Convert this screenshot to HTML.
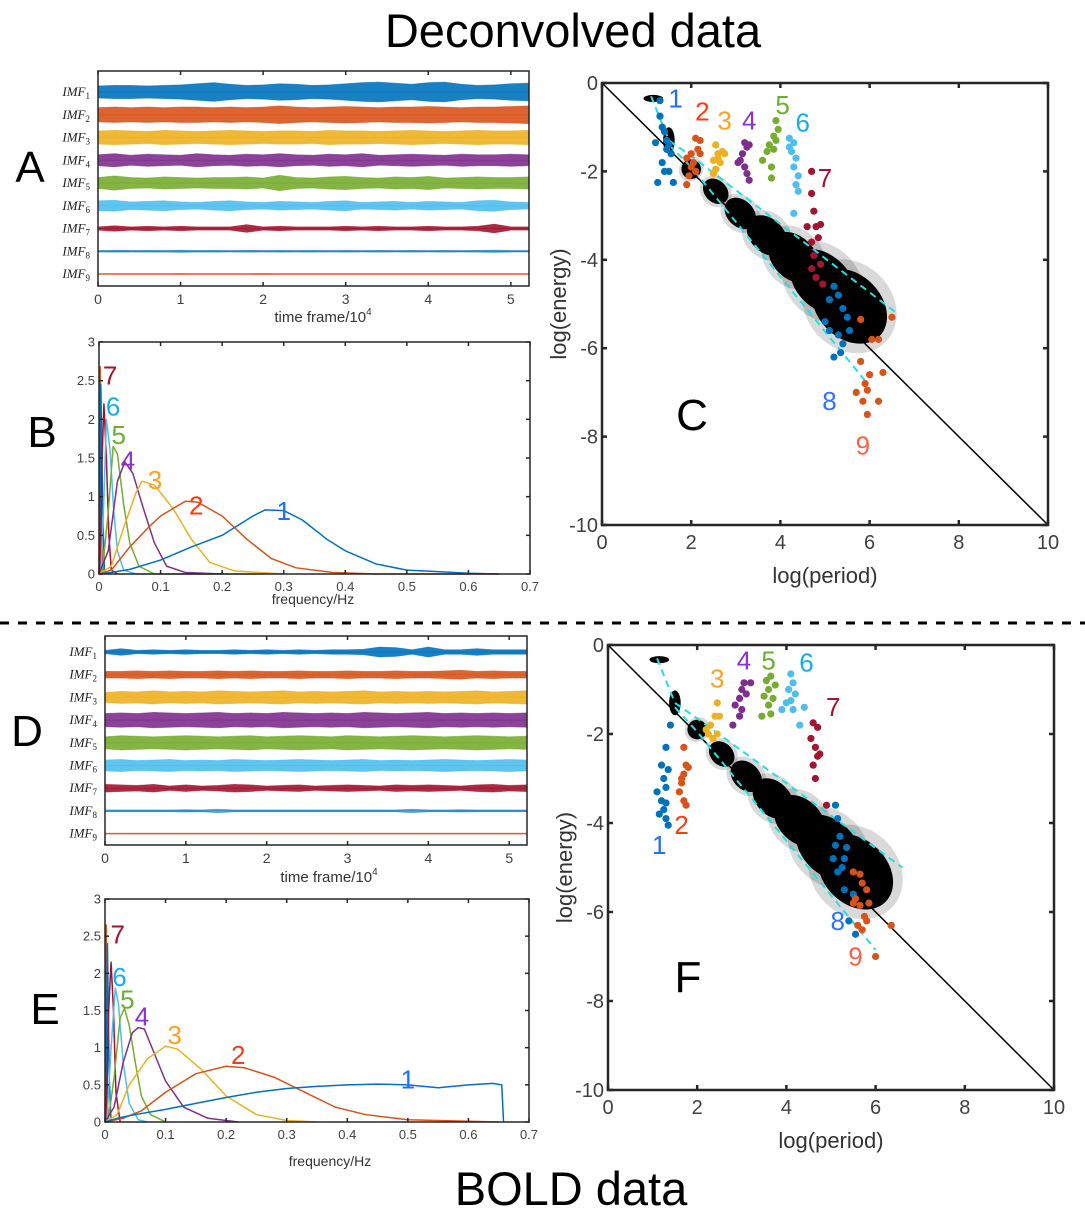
<!DOCTYPE html>
<html><head><meta charset="utf-8"><style>
html,body{margin:0;padding:0;background:#fff;}
svg{display:block;font-family:"Liberation Sans",sans-serif;}
</style></head><body>
<svg id="fig" width="1085" height="1217" viewBox="0 0 1085 1217" xmlns="http://www.w3.org/2000/svg">
<text x="573" y="47" font-size="47" text-anchor="middle" fill="#000">Deconvolved data</text>
<text x="571" y="1205" font-size="47" text-anchor="middle" fill="#000">BOLD data</text>
<line x1="0" y1="623" x2="1085" y2="623" stroke="#000" stroke-width="3" stroke-dasharray="9,9"/>
<text x="30" y="182" font-size="44" text-anchor="middle">A</text>
<text x="42" y="447" font-size="44" text-anchor="middle">B</text>
<text x="692" y="430" font-size="44" text-anchor="middle">C</text>
<text x="27" y="746" font-size="44" text-anchor="middle">D</text>
<text x="45" y="1024" font-size="44" text-anchor="middle">E</text>
<text x="688" y="992" font-size="44" text-anchor="middle">F</text>
</svg>
<script>
const NS="http://www.w3.org/2000/svg";
const svg=document.getElementById('fig');
const COLORS=['#0072BD','#D95319','#EDB120','#7E2F8E','#77AC30','#4DBEEE','#A2142F','#0072BD','#D95319'];
const LABELCOLORS=['#1E6FFF','#FF3A10','#FFA020','#8A30D0','#6AB030','#10B0F0','#A2142F','#3070FF','#FF6040'];

const envA=[
[0.55,0.6,0.6,0.55,0.6,0.65,0.75,0.85,0.7,0.6,0.65,0.75,0.7,0.6,0.65,0.75,0.85,0.9,0.8,0.7,0.85,0.9,0.7,0.6,0.65,0.75,0.8],
[0.65,0.7,0.65,0.7,0.65,0.7,0.7,0.65,0.7,0.65,0.7,0.8,0.7,0.65,0.7,0.75,0.7,0.65,0.7,0.7,0.75,0.7,0.65,0.7,0.7,0.75,0.8],
[0.6,0.65,0.6,0.55,0.65,0.6,0.55,0.6,0.65,0.6,0.55,0.6,0.6,0.55,0.65,0.6,0.6,0.55,0.6,0.65,0.6,0.55,0.6,0.65,0.6,0.6,0.65],
[0.5,0.6,0.45,0.55,0.5,0.45,0.6,0.5,0.45,0.55,0.5,0.6,0.5,0.45,0.55,0.5,0.6,0.45,0.5,0.55,0.5,0.45,0.55,0.5,0.5,0.55,0.5],
[0.5,0.65,0.5,0.45,0.55,0.5,0.45,0.5,0.5,0.55,0.45,0.7,0.5,0.45,0.55,0.6,0.5,0.45,0.55,0.5,0.6,0.45,0.5,0.55,0.5,0.5,0.55],
[0.45,0.5,0.35,0.4,0.45,0.35,0.3,0.4,0.45,0.35,0.3,0.4,0.35,0.3,0.4,0.45,0.3,0.35,0.4,0.3,0.4,0.35,0.3,0.45,0.5,0.35,0.3],
[0.15,0.25,0.15,0.2,0.15,0.2,0.15,0.15,0.15,0.35,0.15,0.2,0.15,0.15,0.15,0.2,0.15,0.2,0.15,0.15,0.2,0.15,0.15,0.2,0.4,0.15,0.15],
[0.07,0.08,0.07,0.08,0.07,0.1,0.07,0.08,0.07,0.08,0.07,0.08,0.07,0.08,0.07,0.08,0.07,0.08,0.07,0.08,0.07,0.08,0.07,0.08,0.1,0.07,0.07],
[0.04,0.04,0.04,0.04,0.04,0.05,0.04,0.04,0.04,0.04,0.06,0.04,0.04,0.04,0.04,0.04,0.04,0.04,0.04,0.04,0.04,0.04,0.04,0.04,0.04,0.04,0.04]];
const envD=[
[0.15,0.3,0.15,0.2,0.15,0.2,0.15,0.15,0.2,0.15,0.2,0.15,0.2,0.15,0.2,0.2,0.25,0.45,0.4,0.2,0.45,0.2,0.2,0.3,0.2,0.2,0.2],
[0.3,0.3,0.35,0.3,0.35,0.3,0.3,0.35,0.3,0.35,0.3,0.3,0.35,0.3,0.3,0.35,0.3,0.3,0.35,0.3,0.3,0.35,0.4,0.3,0.35,0.3,0.3],
[0.45,0.55,0.5,0.6,0.5,0.55,0.5,0.6,0.55,0.5,0.55,0.6,0.5,0.55,0.5,0.55,0.6,0.5,0.55,0.5,0.55,0.5,0.55,0.6,0.5,0.55,0.6],
[0.6,0.65,0.6,0.7,0.65,0.6,0.65,0.7,0.6,0.65,0.6,0.7,0.65,0.6,0.65,0.6,0.7,0.65,0.6,0.65,0.7,0.6,0.65,0.6,0.65,0.6,0.65],
[0.55,0.65,0.6,0.55,0.6,0.65,0.6,0.55,0.6,0.65,0.55,0.6,0.65,0.6,0.55,0.65,0.6,0.55,0.6,0.65,0.6,0.55,0.6,0.65,0.6,0.55,0.6],
[0.5,0.55,0.45,0.5,0.55,0.45,0.5,0.45,0.55,0.5,0.45,0.5,0.55,0.5,0.45,0.5,0.55,0.45,0.5,0.45,0.5,0.55,0.5,0.45,0.5,0.55,0.5],
[0.35,0.3,0.25,0.35,0.2,0.3,0.2,0.25,0.35,0.3,0.2,0.25,0.3,0.2,0.25,0.3,0.25,0.2,0.3,0.25,0.3,0.25,0.2,0.3,0.35,0.25,0.3],
[0.08,0.08,0.08,0.08,0.08,0.1,0.08,0.15,0.08,0.08,0.08,0.08,0.08,0.08,0.08,0.08,0.08,0.08,0.08,0.15,0.08,0.08,0.1,0.08,0.08,0.08,0.08],
[0.04,0.04,0.04,0.04,0.04,0.04,0.04,0.04,0.04,0.04,0.04,0.04,0.04,0.04,0.04,0.04,0.04,0.04,0.04,0.04,0.04,0.04,0.04,0.04,0.04,0.04,0.04]];
const timeTicks=[0,1,2,3,4,5];

const specB=[
[[0,0],[0.02,0.02],[0.05,0.06],[0.1,0.18],[0.15,0.35],[0.2,0.5],[0.25,0.75],[0.27,0.83],[0.3,0.82],[0.33,0.7],[0.37,0.45],[0.4,0.3],[0.45,0.13],[0.5,0.05],[0.55,0.03],[0.6,0.01],[0.65,0]],
[[0,0],[0.02,0.05],[0.05,0.35],[0.08,0.6],[0.1,0.75],[0.14,0.94],[0.16,0.93],[0.2,0.75],[0.24,0.45],[0.28,0.2],[0.32,0.08],[0.38,0.02],[0.45,0],[0.65,0]],
[[0,0],[0.02,0.1],[0.04,0.6],[0.06,1.05],[0.07,1.2],[0.09,1.15],[0.12,0.85],[0.15,0.45],[0.18,0.15],[0.22,0.04],[0.3,0]],
[[0,0],[0.015,0.3],[0.03,1.2],[0.042,1.45],[0.055,1.3],[0.07,0.9],[0.09,0.4],[0.11,0.1],[0.14,0.02],[0.2,0]],
[[0.005,0],[0.015,0.8],[0.023,1.65],[0.03,1.55],[0.04,0.9],[0.05,0.4],[0.065,0.1],[0.09,0],[0.27,0]],
[[0.003,0],[0.008,1.0],[0.012,2.0],[0.018,1.6],[0.024,0.8],[0.03,0.3],[0.04,0.05],[0.06,0],[0.17,0]],
[[0.002,0],[0.005,1.5],[0.008,2.2],[0.012,1.5],[0.016,0.5],[0.02,0.05],[0.03,0]],
[[0.001,0],[0.003,2.45],[0.006,0.8],[0.009,0]],
[[0,0],[0.002,2.68],[0.004,0.5],[0.007,0]]];
const specE=[
[[0,0],[0.02,0.05],[0.05,0.1],[0.1,0.17],[0.15,0.25],[0.2,0.33],[0.25,0.4],[0.3,0.45],[0.35,0.48],[0.4,0.5],[0.45,0.51],[0.5,0.5],[0.55,0.46],[0.6,0.5],[0.64,0.52],[0.655,0.5],[0.658,0]],
[[0,0],[0.03,0.05],[0.06,0.15],[0.1,0.4],[0.15,0.65],[0.2,0.75],[0.23,0.73],[0.28,0.6],[0.33,0.4],[0.38,0.2],[0.43,0.1],[0.5,0.03],[0.6,0.01],[0.65,0]],
[[0,0],[0.02,0.1],[0.04,0.5],[0.07,0.85],[0.1,1.02],[0.12,0.98],[0.16,0.7],[0.2,0.35],[0.25,0.1],[0.3,0.02],[0.35,0]],
[[0,0],[0.015,0.2],[0.03,0.8],[0.045,1.2],[0.055,1.27],[0.065,1.25],[0.08,0.95],[0.1,0.55],[0.13,0.2],[0.17,0.05],[0.22,0]],
[[0.005,0],[0.015,0.6],[0.025,1.4],[0.032,1.53],[0.04,1.3],[0.05,0.8],[0.06,0.35],[0.075,0.1],[0.1,0]],
[[0.003,0],[0.01,1.0],[0.017,1.8],[0.022,1.6],[0.03,0.8],[0.04,0.25],[0.055,0.03],[0.07,0]],
[[0.002,0],[0.006,1.5],[0.01,2.15],[0.014,1.5],[0.018,0.4],[0.025,0]],
[[0.001,0],[0.004,2.4],[0.007,0.6],[0.01,0]],
[[0,0],[0.002,2.65],[0.004,0.3],[0.006,0]]];
const specLabelsB=[[0.30,0.7,'1'],[0.158,0.77,'2'],[0.091,1.1,'3'],[0.047,1.35,'4'],[0.032,1.68,'5'],[0.023,2.05,'6'],[0.018,2.45,'7']];
const specLabelsE=[[0.5,0.45,'1'],[0.22,0.78,'2'],[0.115,1.05,'3'],[0.061,1.3,'4'],[0.037,1.53,'5'],[0.024,1.83,'6'],[0.021,2.4,'7']];
const freqTicks=[0,0.1,0.2,0.3,0.4,0.5,0.6,0.7];
const ampTicks=[0,0.5,1,1.5,2,2.5,3];

const periodTicks=[0,2,4,6,8,10];
const energyTicks=[0,-2,-4,-6,-8,-10];
const cloudC=[[1.15,-0.35,0.22,0.08,0],[1.5,-1.3,0.13,0.3,0],[2.0,-1.95,0.22,0.22,45],[2.55,-2.45,0.32,0.25,45],[3.1,-2.95,0.4,0.3,45],[3.7,-3.45,0.52,0.38,45],[4.3,-3.95,0.66,0.48,45],[4.95,-4.5,0.85,0.6,45],[5.55,-5.05,0.95,0.72,45]];
const cloudF=[[1.15,-0.33,0.22,0.08,0],[1.5,-1.3,0.13,0.28,0],[2.0,-1.9,0.22,0.22,45],[2.55,-2.45,0.32,0.25,45],[3.1,-2.95,0.4,0.3,45],[3.7,-3.45,0.52,0.38,45],[4.3,-3.95,0.66,0.48,45],[4.95,-4.55,0.85,0.6,45],[5.55,-5.1,0.95,0.72,45]];
const dashC=[[[1.1,-0.3],[1.5,-1.3],[2.0,-1.65],[6.6,-5.2]],[[1.5,-1.4],[2.0,-1.9],[5.95,-6.8]]];
const dashF=[[[1.1,-0.3],[1.5,-1.3],[2.0,-1.65],[6.6,-5.0]],[[1.5,-1.4],[2.0,-1.95],[6.0,-6.85]]];
const ptsC=[
[[1.3,-0.75],[1.35,-1.0],[1.4,-1.1],[1.45,-1.3],[1.5,-1.4],[1.2,-1.35],[1.55,-1.6],[1.35,-1.8],[1.4,-2.0],[1.5,-2.0],[1.25,-2.25],[1.6,-2.25],[1.45,-1.5],[1.3,-0.4]],
[[1.9,-1.7],[2.0,-1.6],[2.1,-1.25],[2.2,-1.3],[2.05,-1.8],[2.15,-1.5],[1.95,-2.1],[1.9,-2.3],[2.1,-2.0],[2.0,-1.9],[2.2,-1.6]],
[[2.55,-1.4],[2.6,-1.6],[2.7,-1.55],[2.5,-1.75],[2.65,-1.8],[2.55,-1.95],[2.75,-1.6],[2.5,-2.05],[2.6,-1.7]],
[[3.2,-1.35],[3.25,-1.45],[3.15,-1.6],[3.1,-1.75],[3.3,-1.4],[3.2,-1.9],[3.25,-2.05],[3.3,-2.2],[3.05,-1.8]],
[[3.9,-0.85],[3.95,-1.05],[3.85,-1.2],[3.75,-1.4],[3.7,-1.55],[3.85,-1.5],[3.6,-1.75],[3.8,-1.9],[3.8,-2.15],[3.9,-1.3]],
[[4.2,-1.25],[4.3,-1.35],[4.25,-1.55],[4.35,-1.7],[4.3,-1.9],[4.4,-2.1],[4.35,-2.3],[4.4,-2.45],[4.3,-2.95],[4.2,-1.45]],
[[4.7,-2.0],[4.7,-2.5],[4.75,-2.9],[4.6,-3.25],[4.8,-3.25],[4.9,-3.2],[4.85,-3.5],[4.7,-3.6],[4.75,-3.9],[4.7,-4.2],[4.8,-4.4],[4.95,-4.55],[4.9,-4.1]],
[[5.2,-4.6],[5.3,-4.8],[5.1,-4.9],[5.4,-5.1],[5.5,-5.3],[5.0,-5.4],[5.1,-5.6],[5.3,-5.7],[5.4,-5.9],[5.2,-6.2],[5.35,-6.1],[5.55,-5.6]],
[[5.8,-5.35],[6.5,-5.3],[6.2,-5.8],[6.05,-5.8],[5.8,-6.3],[5.9,-6.8],[6.0,-6.6],[6.3,-6.55],[5.7,-7.0],[5.85,-7.2],[6.2,-7.2],[5.95,-7.5],[5.95,-6.95]]];
const ptsF=[
[[1.4,-1.8],[1.3,-2.3],[1.2,-2.7],[1.35,-2.8],[1.25,-3.0],[1.3,-3.2],[1.1,-3.3],[1.2,-3.5],[1.3,-3.55],[1.15,-3.8],[1.3,-3.9],[1.35,-4.05],[1.25,-3.7]],
[[1.7,-2.3],[1.75,-2.7],[1.7,-2.9],[1.65,-3.1],[1.6,-3.3],[1.7,-3.5],[1.75,-3.6],[1.65,-3.0],[1.8,-2.75]],
[[2.45,-1.3],[2.4,-1.6],[2.3,-1.8],[2.25,-2.0],[2.35,-2.1],[2.45,-2.0],[2.2,-1.9],[2.5,-1.6]],
[[3.2,-0.85],[3.05,-0.85],[3.0,-1.0],[2.95,-1.2],[2.85,-1.35],[3.0,-1.45],[2.95,-1.6],[2.8,-1.8],[3.1,-1.1]],
[[3.65,-0.7],[3.55,-0.8],[3.6,-1.0],[3.7,-1.2],[3.5,-1.15],[3.6,-1.35],[3.45,-1.6],[3.65,-1.55],[3.75,-0.9]],
[[4.1,-0.65],[4.15,-0.85],[4.05,-1.0],[4.2,-1.1],[4.0,-1.3],[4.15,-1.45],[3.9,-1.45],[4.4,-1.4],[4.3,-1.8],[4.1,-1.25]],
[[4.6,-1.75],[4.7,-1.85],[4.55,-2.1],[4.65,-2.3],[4.7,-2.5],[4.6,-2.7],[4.65,-3.0],[4.75,-2.45],[4.9,-3.6]],
[[5.1,-3.6],[5.15,-3.9],[5.2,-4.3],[5.1,-4.5],[5.35,-4.55],[5.3,-4.8],[5.05,-4.8],[5.15,-5.1],[5.25,-5.0],[5.5,-5.6],[5.4,-6.2],[5.55,-6.5],[5.3,-5.5]],
[[5.5,-5.1],[5.65,-5.15],[5.7,-5.35],[5.8,-5.5],[5.55,-5.7],[5.65,-5.85],[5.85,-5.8],[5.75,-6.1],[5.8,-6.2],[5.6,-6.3],[5.7,-6.4],[6.35,-6.3],[6.0,-7.0],[5.5,-5.8]]];
const ptLabelsC=[[1.65,-0.55],[2.25,-0.85],[2.75,-1.05],[3.3,-1.05],[4.05,-0.7],[4.5,-1.1],[5.0,-2.35],[5.1,-7.4],[5.85,-8.4]];
const ptLabelsF=[[1.15,-4.7],[1.65,-4.25],[2.45,-0.95],[3.05,-0.55],[3.6,-0.55],[4.45,-0.6],[5.05,-1.6],[5.15,-6.4],[5.55,-7.2]];

function el(tag,attrs,parent){const e=document.createElementNS(NS,tag);for(const k in attrs)e.setAttribute(k,attrs[k]);(parent||svg).appendChild(e);return e;}
function scale(d0,d1,r0,r1){return v=>r0+(v-d0)/(d1-d0)*(r1-r0);}

function frame(g,x0,y0,x1,y1,sw,xt,yt,sx,sy,tl,fs,name){
  const r=el('rect',{x:x0,y:y0,width:x1-x0,height:y1-y0,fill:'none',stroke:'#262626','stroke-width':sw},g);
  
  
  xt.forEach(v=>{const X=sx(v);
    el('line',{x1:X,y1:y1,x2:X,y2:y1-tl,stroke:'#262626','stroke-width':sw},g);
    el('line',{x1:X,y1:y0,x2:X,y2:y0+tl,stroke:'#262626','stroke-width':sw},g);
    const t=el('text',{x:X,y:y1+fs+4,'font-size':fs,'text-anchor':'middle',fill:'#404040'},g);t.textContent=String(v);
    
    });
  (yt||[]).forEach(v=>{const Y=sy(v);
    el('line',{x1:x0,y1:Y,x2:x0+tl,y2:Y,stroke:'#262626','stroke-width':sw},g);
    el('line',{x1:x1,y1:Y,x2:x1-tl,y2:Y,stroke:'#262626','stroke-width':sw},g);
    const t=el('text',{x:x0-4,y:Y+fs*0.35,'font-size':fs,'text-anchor':'end',fill:'#404040'},g);t.textContent=String(v);
    
    });
}

function tsPanel(name,x0,y0,x1,y1,rowTop,rowSp,env,H,xlabX,xlabY){
  const g=el('g',{});
  
  
  const sx=scale(0,5.22,x0,x1);
  env.forEach((a,i)=>{const yc=rowTop+i*rowSp;let top=[],bot=[];
    a.forEach((v,j)=>{const X=sx(Math.min(j*0.2,5.22));top.push(X+','+(yc-v*H));bot.unshift(X+','+(yc+v*H));});
    const lastX=sx(5.22);top.push(lastX+','+(yc-a[a.length-1]*H));bot.unshift(lastX+','+(yc+a[a.length-1]*H));
    const p=el('polygon',{points:top.concat(bot).join(' '),fill:COLORS[i],'fill-opacity':i>=7?0.5:0.9,stroke:COLORS[i],'stroke-width':0.8,'stroke-opacity':0.6},g);
    
    
    el('line',{x1:x0,y1:yc,x2:x1,y2:yc,stroke:COLORS[i],'stroke-width':1,'stroke-opacity':0.8},g);
    const t=el('text',{x:x0-8,y:yc+4,'font-size':13,'text-anchor':'end','font-style':'italic','font-family':'Liberation Serif, serif',fill:'#222'},g);
    t.innerHTML='IMF<tspan font-size="9" dy="3" font-style="normal">'+(i+1)+'</tspan>';
    
    });
  frame(g,x0,y0,x1,y1,1.5,timeTicks,null,sx,null,4,14,name);
  const xl=el('text',{x:xlabX,y:xlabY,'font-size':15,'text-anchor':'middle',fill:'#333'},g);
  xl.innerHTML='time frame/10<tspan font-size="10" dy="-7">4</tspan>';
  
  
}

function specPanel(name,x0,y0,x1,y1,spec,labels,xlabX,xlabY){
  const g=el('g',{});
  
  
  const sx=scale(0,0.7,x0,x1),sy=scale(0,3,y1,y0);
  for(let i=spec.length-1;i>=0;i--){
    const pts=spec[i].map(p=>sx(p[0])+','+sy(p[1])).join(' ');
    const l=el('polyline',{points:pts,fill:'none',stroke:COLORS[i],'stroke-width':1.5,'stroke-linejoin':'round'},g);
    
    }
  labels.forEach((L,i)=>{const t=el('text',{x:sx(L[0]),y:sy(L[1]),'font-size':26,'text-anchor':'middle',fill:LABELCOLORS[i]},g);t.textContent=L[2];
    
    });
  frame(g,x0,y0,x1,y1,1.5,freqTicks,ampTicks,sx,sy,4,13,name);
  const xl=el('text',{x:xlabX,y:xlabY,'font-size':14,'text-anchor':'middle',fill:'#333'},g);xl.textContent='frequency/Hz';
  
  
}

function scatPanel(name,x0,y0,x1,y1,clouds,dashes,pts,plabels){
  const g=el('g',{});
  
  
  const sx=scale(0,10,x0,x1),sy=scale(0,-10,y0,y1);
  const kx=(x1-x0)/10,ky=(y1-y0)/10;
  clouds.forEach(c=>{
    if(c[4]!==0){
      const h=el('ellipse',{cx:sx(c[0]),cy:sy(c[1]),rx:c[2]*kx*1.2,ry:c[3]*ky*1.35,transform:'rotate('+c[4]+' '+sx(c[0])+' '+sy(c[1])+')',fill:'#000','fill-opacity':0.15},g);
      
      }
    const e=el('ellipse',{cx:sx(c[0]),cy:sy(c[1]),rx:c[2]*kx,ry:c[3]*ky,transform:'rotate('+c[4]+' '+sx(c[0])+' '+sy(c[1])+')',fill:'#000'},g);
    
    });
  const d=el('line',{x1:sx(0),y1:sy(0),x2:sx(10),y2:sy(-10),stroke:'#000','stroke-width':1.5},g);
  
  
  dashes.forEach(ln=>{const p=el('polyline',{points:ln.map(q=>sx(q[0])+','+sy(q[1])).join(' '),fill:'none',stroke:'#22E0E0','stroke-width':2,'stroke-dasharray':'7,5'},g);
    
    });
  pts.forEach((arr,i)=>arr.forEach(q=>{const c=el('circle',{cx:sx(q[0]),cy:sy(q[1]),r:3.6,fill:COLORS[i]},g);
    
    }));
  plabels.forEach((q,i)=>{const t=el('text',{x:sx(q[0]),y:sy(q[1]),'font-size':26,'text-anchor':'middle',fill:LABELCOLORS[i]},g);t.textContent=String(i+1);
    
    });
  frame(g,x0,y0,x1,y1,2.5,periodTicks,energyTicks,sx,sy,5,20,name);
  const xl=el('text',{x:(x0+x1)/2,y:y1+58,'font-size':22,'text-anchor':'middle',fill:'#333'},g);xl.textContent='log(period)';
  
  
  const yl=el('text',{x:0,y:0,'font-size':22,'text-anchor':'middle',fill:'#333',transform:'translate('+(x0-36)+','+((y0+y1)/2)+') rotate(-90)'},g);yl.textContent='log(energy)';
  
  
}

tsPanel('panel-a',98,71,529,286,92,22.75,envA,11,323,322);
specPanel('panel-b',99,342,530,574,specB,specLabelsB,313,604);
scatPanel('panel-c',602,83,1048,525,cloudC,dashC,ptsC,ptLabelsC);
tsPanel('panel-d',105,636,527,845,652,22.7,envD,11,329,882);
specPanel('panel-e',105,899,529,1122,specE,specLabelsE,330,1166);
scatPanel('panel-f',608,645,1054,1090,cloudF,dashF,ptsF,ptLabelsF);
</script>
</body></html>
